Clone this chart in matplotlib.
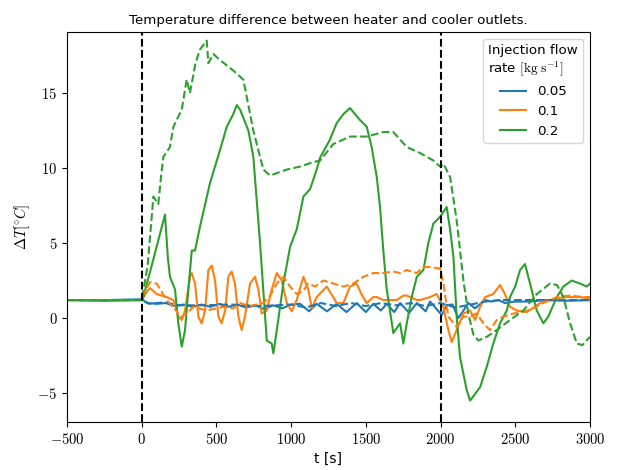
import matplotlib
matplotlib.use("Agg")
import matplotlib.pyplot as plt
from matplotlib.ticker import FuncFormatter

plt.rcParams['mathtext.fontset'] = 'cm'
plt.rcParams['font.family'] = ['DejaVu Sans']

# ---- data: (time [s], dT [degC]) ----
flow_rates = ["0.05", "0.1", "0.2"]
colors = ["#1f77b4", "#ff7f0e", "#2ca02c"]

blue_solid = [(-500, 1.2), (-250, 1.2), (0, 1.25), (40, 1.0), (100, 0.95), (160, 1.0), (220, 0.8), (280, 0.9),
              (340, 0.75), (400, 0.9), (460, 0.75), (520, 0.95), (580, 0.75), (640, 0.9), (700, 0.7),
              (760, 0.85), (820, 0.6), (880, 0.85), (940, 0.65), (1000, 0.9), (1060, 0.95), (1120, 0.45),
              (1171, 0.95), (1240, 0.45), (1305, 0.95), (1370, 0.4), (1439, 1.0), (1500, 0.4), (1550, 0.95),
              (1600, 0.5), (1640, 0.95), (1690, 0.4), (1729, 1.0), (1790, 0.35), (1841, 1.0), (1900, 0.45),
              (1930, 1.1), (2008, 0.2), (2041, 0.87), (2080, 0.9), (2119, 0.0), (2153, 0.5), (2186, 1.0),
              (2231, 0.65), (2298, 1.2), (2340, 1.1), (2387, 1.2), (2431, 1.0), (2500, 1.1), (2599, 1.1),
              (2700, 1.2), (2850, 1.15), (3000, 1.2)]

blue_dash = [(-500, 1.2), (0, 1.2), (50, 0.95), (150, 1.05), (250, 0.85), (400, 0.85), (600, 0.9), (800, 0.8),
             (1000, 0.9), (1100, 0.7), (1200, 1.0), (1300, 0.8), (1400, 1.0), (1500, 0.8), (1600, 1.0),
             (1700, 0.85), (1800, 1.0), (1900, 0.8), (2000, 1.0), (2100, 0.7), (2200, 0.9), (2300, 1.1),
             (2400, 1.2), (2600, 1.2), (3000, 1.2)]

orange_solid = [(-500, 1.2), (-250, 1.2), (0, 1.2), (30, 1.7), (56, 2.0), (100, 1.6), (167, 1.4), (212, 1.2),
                (245, 0.1), (268, -0.13), (290, 0.5), (323, 2.75), (335, 3.0), (357, 2.3), (379, 0.1),
                (401, -0.35), (424, 0.5), (446, 3.2), (469, 3.5), (491, 2.5), (513, 0.1), (535, -0.35),
                (558, 0.5), (580, 2.75), (602, 3.1), (624, 2.3), (647, 0.1), (669, -0.8), (691, 0.1),
                (725, 2.3), (758, 2.75), (781, 1.9), (803, 0.3), (837, 0.5), (870, 1.9), (904, 3.0),
                (937, 2.5), (971, 1.0), (1004, 0.45), (1037, 1.2), (1082, 2.75), (1115, 1.9), (1138, 0.65),
                (1171, 1.4), (1238, 2.1), (1282, 1.4), (1305, 1.0), (1350, 1.0), (1394, 2.1), (1439, 2.3),
                (1470, 1.6), (1506, 1.0), (1550, 1.4), (1573, 1.4), (1617, 1.2), (1640, 1.2), (1707, 1.2),
                (1751, 1.5), (1774, 1.5), (1841, 1.2), (1863, 1.2), (1930, 1.4), (1974, 1.6), (2019, 0.75),
                (2052, -0.8), (2075, -1.6), (2108, -0.8), (2153, 0.3), (2198, 0.5), (2231, -0.13),
                (2265, 0.75), (2298, 1.4), (2353, 1.6), (2398, 2.2), (2431, 1.6), (2465, 0.75), (2510, 0.5),
                (2577, 0.4), (2666, 1.0), (2733, 1.2), (2822, 1.4), (2934, 1.4), (3000, 1.3)]

orange_dash = [(-500, 1.2), (0, 1.2), (11, 1.6), (56, 2.4), (100, 2.3), (167, 1.2), (234, 0.45), (256, 0.0),
               (300, 0.3), (346, 0.75), (435, 0.5), (546, 0.75), (613, 0.65), (658, 1.0), (720, 0.8),
               (814, 1.0), (860, 1.5), (904, 2.3), (948, 2.75), (993, 2.1), (1037, 1.6), (1080, 1.8),
               (1115, 2.3), (1160, 2.1), (1216, 2.5), (1282, 2.3), (1350, 2.1), (1416, 2.3), (1483, 2.75),
               (1550, 3.0), (1617, 3.0), (1684, 3.1), (1730, 3.0), (1774, 3.2), (1840, 3.0), (1885, 3.4),
               (1930, 3.4), (1997, 3.3), (2019, 2.3), (2052, 0.1), (2108, -0.6), (2153, 0.1), (2198, 0.1),
               (2242, 0.3), (2287, -0.35), (2331, -0.8), (2376, -0.13), (2420, 0.1), (2487, 0.3),
               (2554, 0.4), (2621, 0.65), (2688, 1.0), (2778, 1.4), (2867, 1.5), (2956, 1.4), (3000, 1.4)]

green_solid = [(-500, 1.2), (-250, 1.15), (0, 1.2), (11, 1.4), (80, 4.0), (156, 6.9), (175, 4.0), (189, 2.75),
               (223, 1.9), (245, -0.35), (268, -1.9), (290, -0.8), (312, 1.9), (335, 4.5), (357, 4.5),
               (390, 6.1), (457, 9.0), (524, 11.2), (569, 12.75), (613, 13.6), (636, 14.2), (658, 13.9),
               (714, 12.5), (747, 10.75), (792, 5.0), (837, -1.5), (870, -1.7), (881, -2.35), (904, -0.8),
               (948, 2.3), (993, 4.75), (1037, 5.9), (1060, 7.0), (1082, 8.1), (1127, 8.6), (1171, 9.9),
               (1194, 10.7), (1260, 11.9), (1305, 13.0), (1350, 13.6), (1394, 14.0), (1461, 13.2),
               (1506, 12.75), (1539, 11.4), (1573, 9.4), (1595, 7.4), (1617, 4.5), (1640, 1.9), (1684, -1.0),
               (1729, -0.35), (1751, -1.7), (1774, -0.35), (1807, 1.4), (1841, 2.75), (1885, 3.2),
               (1918, 5.0), (1952, 6.3), (1997, 6.75), (2041, 7.4), (2064, 5.9), (2086, 4.1), (2108, 0.1),
               (2130, -2.6), (2175, -4.8), (2198, -5.5), (2265, -4.6), (2309, -3.25), (2353, -1.7),
               (2398, -0.35), (2443, 0.5), (2465, 1.4), (2499, 2.1), (2532, 3.2), (2565, 3.6), (2599, 2.3),
               (2644, 0.5), (2688, -0.35), (2721, 0.1), (2778, 1.4), (2822, 2.1), (2878, 2.5), (2934, 2.3),
               (2979, 2.1), (3000, 2.3)]

green_dash = [(-500, 1.2), (0, 1.2), (40, 3.5), (78, 8.1), (111, 7.6), (130, 9.5), (145, 10.75), (189, 11.4),
              (212, 12.75), (268, 13.9), (301, 15.9), (323, 15.0), (360, 17.0), (390, 17.9), (435, 18.5),
              (446, 17.0), (480, 17.6), (524, 17.2), (613, 16.5), (680, 15.9), (747, 12.5), (814, 9.9),
              (859, 9.5), (971, 9.9), (1060, 10.1), (1149, 10.4), (1194, 10.5), (1282, 11.6), (1394, 12.1),
              (1506, 12.1), (1617, 12.4), (1684, 12.4), (1774, 11.4), (1863, 11.0), (1952, 10.5),
              (1997, 10.1), (2019, 10.3), (2064, 9.4), (2108, 6.5), (2153, 2.5), (2186, 0.3), (2220, -1.1),
              (2253, -1.5), (2309, -1.25), (2376, -0.8), (2465, -0.13), (2554, 0.5), (2644, 1.6),
              (2733, 2.3), (2780, 2.2), (2822, 1.4), (2867, -0.35), (2912, -1.7), (2950, -1.8), (3000, -1.25)]

event_times = [0, 2000]
x_ticks = [-500, 0, 500, 1000, 1500, 2000, 2500, 3000]
y_ticks = [-5, 0, 5, 10, 15]

solid = [blue_solid, orange_solid, green_solid]
dashed = [blue_dash, orange_dash, green_dash]

fig = plt.figure(figsize=(6.17, 4.70), dpi=100)
ax = fig.add_axes([0.1086, 0.1021, 0.8476, 0.8298])

for series, c, lab in zip(solid, colors, flow_rates):
    t, y = zip(*series)
    ax.plot(t, y, color=c, lw=1.5, label=lab)
for series, c in zip(dashed, colors):
    t, y = zip(*series)
    ax.plot(t, y, color=c, lw=1.5, ls='--')

for te in event_times:
    ax.axvline(te, color='black', ls='--', lw=1.5)

ax.set_xlim(-500, 3000)
ax.set_ylim(-6.93, 19.07)
ax.set_xticks(x_ticks)
ax.set_yticks(y_ticks)
fmt = FuncFormatter(lambda v, p: r"$%d$" % v)
ax.xaxis.set_major_formatter(fmt)
ax.yaxis.set_major_formatter(fmt)
ax.tick_params(labelsize=10.5)

ax.set_title("Temperature difference between heater and cooler outlets.", fontsize=9.6)
ax.set_xlabel("t [s]", fontsize=10)
ax.set_ylabel(r"$\Delta T [^{\circ} C]$", fontsize=10.5)

leg = ax.legend(title="Injection flow\nrate $[\\mathrm{kg\\ s^{-1}}]$", loc='upper right',
                fontsize=9.6, title_fontsize=9.6)
leg._legend_box.align = "center"

fig.savefig("out.png", dpi=100)
